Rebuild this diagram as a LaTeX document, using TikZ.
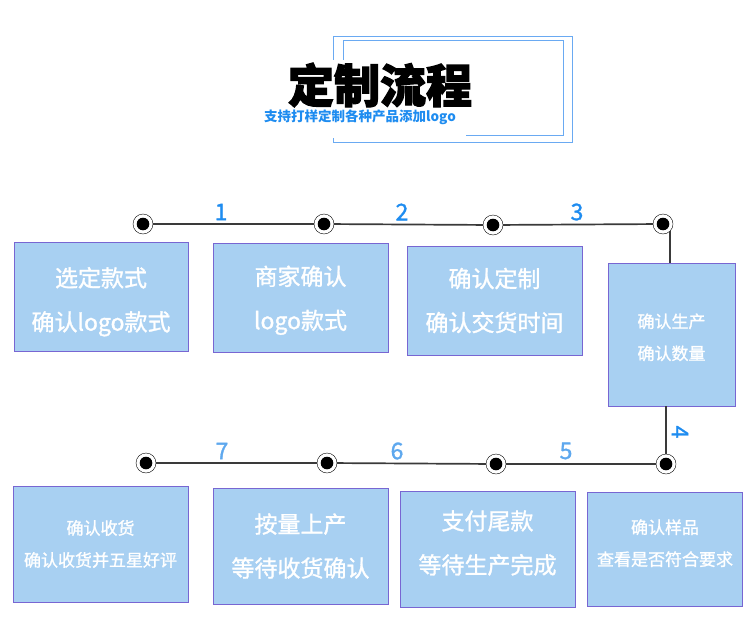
\documentclass[tikz,border=0pt]{standalone}
\usepackage{fontspec}
\newfontfamily\cjk{Noto Sans CJK SC}
\newfontfamily\cjkheavy{Noto Sans CJK SC}[BoldFeatures={FakeBold=2.5}]
\newfontfamily\cjkbox{Noto Sans CJK SC}[FakeBold=1.3]
\definecolor{boxfill}{HTML}{A8D0F2}
\definecolor{boxline}{HTML}{7866D2}
\definecolor{numblue}{HTML}{1E8CF0}
\definecolor{numlight}{HTML}{5EA8EE}
\definecolor{framec}{HTML}{6AAAF2}
\definecolor{linec}{HTML}{3A3A3A}
\begin{document}
\begin{tikzpicture}[x=1pt, y=-1pt,
    dot/.style={circle, draw, thin, fill=white, minimum size=20pt, inner sep=0pt},
    stepbox/.style={draw=boxline, fill=boxfill, thick, text=white, align=center, inner sep=0pt},
    big/.style={font=\cjkbox\fontsize{23}{44}\selectfont},
    small/.style={font=\cjkbox\fontsize{17}{32}\selectfont},
    num/.style={font=\cjkbox\fontsize{23}{23}\selectfont, text=numblue},
    link/.style={draw=linec, line width=1.7pt}]
    \useasboundingbox (0,0) rectangle (750,626);
    % title
    \draw[framec, line width=1pt] (333,37) rectangle (572,142);
    \draw[framec, line width=1pt] (343,41) rectangle (563,135);
    \fill[white] (262,60) rectangle (466,138);
    \node[font=\cjkheavy\bfseries\fontsize{46}{46}\selectfont] (title) at (380,85) {定制流程};
    \node[font=\cjk\bfseries\fontsize{13.5}{14}\selectfont, text=numblue] (sub) at (360,117) {支持打样定制各种产品添加logo};
    % points
    \node[dot] (p1) at (143,224) {};
    \node[dot] (p2) at (324,224) {};
    \node[dot] (p3) at (493,225) {};
    \node[dot] (p4) at (663,224) {};
    \node[dot] (p5) at (666,464) {};
    \node[dot] (p6) at (496,464) {};
    \node[dot] (p7) at (327,463) {};
    \node[dot] (p8) at (146,463) {};
    \foreach \p in {p1,p2,p3,p4,p5,p6,p7,p8}
        \fill (\p) circle (6.3pt);
    % steps
    \node[stepbox, big, minimum width=174pt, minimum height=109pt] (s1) at (101,296.5) {\rule{0pt}{30pt}选定款式\\确认logo款式};
    \node[stepbox, big, minimum width=175pt, minimum height=109pt] (s2) at (300.5,297.5) {\rule{0pt}{25pt}商家确认\\logo款式};
    \node[stepbox, big, minimum width=175pt, minimum height=109pt] (s3) at (494.5,300.5) {确认定制\\确认交货时间};
    \node[stepbox, small, minimum width=127pt, minimum height=143pt] (s4) at (671.5,334.5) {\rule{0pt}{20pt}确认生产\\确认数量};
    \node[stepbox, small, minimum width=155pt, minimum height=114pt] (s5) at (665,549) {确认样品\\查看是否符合要求\rule[-13pt]{0pt}{0pt}};
    \node[stepbox, big, minimum width=175pt, minimum height=116pt] (s6) at (487.5,549) {支付尾款\\等待生产完成\rule[-14pt]{0pt}{0pt}};
    \node[stepbox, big, minimum width=175pt, minimum height=116pt] (s7) at (300.5,546) {按量上产\\等待收货确认};
    \node[stepbox, small, minimum width=175pt, minimum height=116pt] (s8) at (100.5,544) {确认收货\\确认收货并五星好评};
    % links
    \draw[link] (p1) -- (p2) -- (p3) -- (p4);
    \draw[link] (p4.south east) -- (p4.south east |- s4.north);
    \draw[link] (s4.south -| p5) -- (p5);
    \draw[link] (p5) -- (p6) -- (p7) -- (p8);
    % numbers
    \node[num] (n1) at (221,212) {1};
    \node[num] (n2) at (402,212) {2};
    \node[num] (n3) at (577,212) {3};
    \node[num, rotate=-90] (n4) at (680,432) {4};
    \node[num, text=numlight] (n5) at (566,451) {5};
    \node[num, text=numlight] (n6) at (397,451) {6};
    \node[num, text=numlight] (n7) at (222,451) {7};
\end{tikzpicture}
\end{document}
